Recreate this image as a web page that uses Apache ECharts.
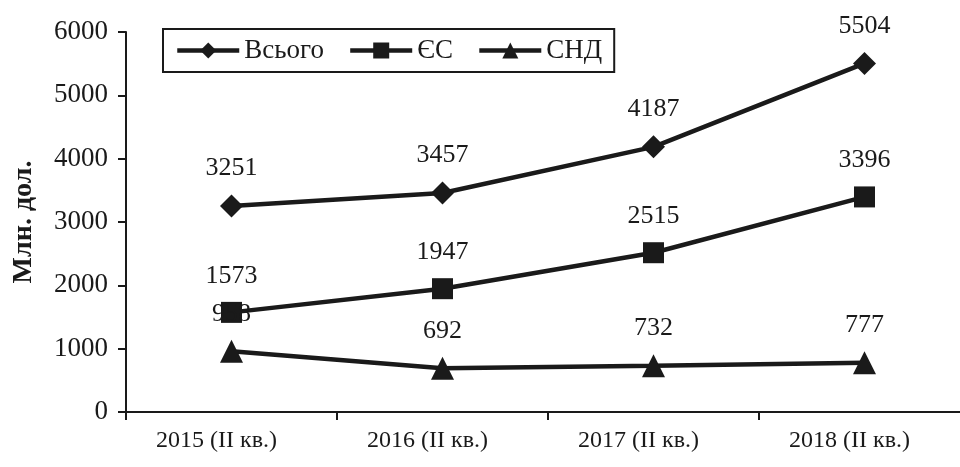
<!DOCTYPE html>
<html><head><meta charset="utf-8">
<script src="https://cdn.jsdelivr.net/npm/echarts@6/dist/echarts.min.js"></script>
<style>html,body{margin:0;padding:0;background:#fff}#c{width:960px;height:467px}</style>
</head><body><div id="c"></div>
<script>
var categories = ['2015 (II кв.)', '2016 (II кв.)', '2017 (II кв.)', '2018 (II кв.)'];
var totalValues = [3251, 3457, 4187, 5504];
var euValues = [1573, 1947, 2515, 3396];
var cisValues = [958, 692, 732, 777];
var seriesNames = ['Всього', 'ЄС', 'СНД'];
var yTicks = [0, 1000, 2000, 3000, 4000, 5000, 6000];

var F = 'Liberation Serif, Times New Roman, serif';
var C = '#1a1a1a';
function mk(name, data, symbol, size) {
  return {
    name: name, type: 'line', data: data, symbol: symbol, symbolSize: size,
    lineStyle: {color: C, width: 4.5}, itemStyle: {color: C},
    label: {show: true, position: 'top', distance: 13, color: C, fontFamily: F, fontSize: 26},
    z: 3
  };
}
var chart = echarts.init(document.getElementById('c'));
chart.setOption({
  animation: false,
  grid: {left: 126, top: 32, right: -10, height: 380, containLabel: false, outerBoundsMode: 'none'},
  legend: {
    left: 163, top: 29,
    data: seriesNames,
    itemWidth: 62, itemHeight: 20, itemGap: 24,
    borderColor: C, borderWidth: 2, padding: [8, 12, 8, 12],
    lineStyle: {width: 4.5, color: C},
    textStyle: {fontFamily: F, fontSize: 27, color: C}
  },
  xAxis: {
    type: 'category', data: categories, boundaryGap: true,
    axisLine: {lineStyle: {color: C, width: 2}},
    axisTick: {show: true, length: 8, lineStyle: {color: C, width: 2}},
    axisLabel: {fontFamily: F, fontSize: 24, color: C, margin: 17, padding: [0, 30, 0, 0]},
    splitLine: {show: false}
  },
  yAxis: {
    type: 'value', min: yTicks[0], max: yTicks[yTicks.length - 1], interval: 1000,
    name: 'Млн. дол.', nameLocation: 'middle', nameGap: 88,
    nameTextStyle: {fontFamily: F, fontSize: 28, fontWeight: 'bold', fontStyle: 'normal', color: C},
    axisLine: {show: true, lineStyle: {color: C, width: 2}},
    axisTick: {show: true, length: 8, lineStyle: {color: C, width: 2}},
    axisLabel: {fontFamily: F, fontSize: 27, color: C, margin: 18, formatter: function (v) { return String(v); }},
    splitLine: {show: false}
  },
  series: [
    mk(seriesNames[0], totalValues, 'diamond', 23),
    mk(seriesNames[1], euValues, 'rect', 21),
    mk(seriesNames[2], cisValues, 'triangle', 23)
  ]
});
</script></body></html>
